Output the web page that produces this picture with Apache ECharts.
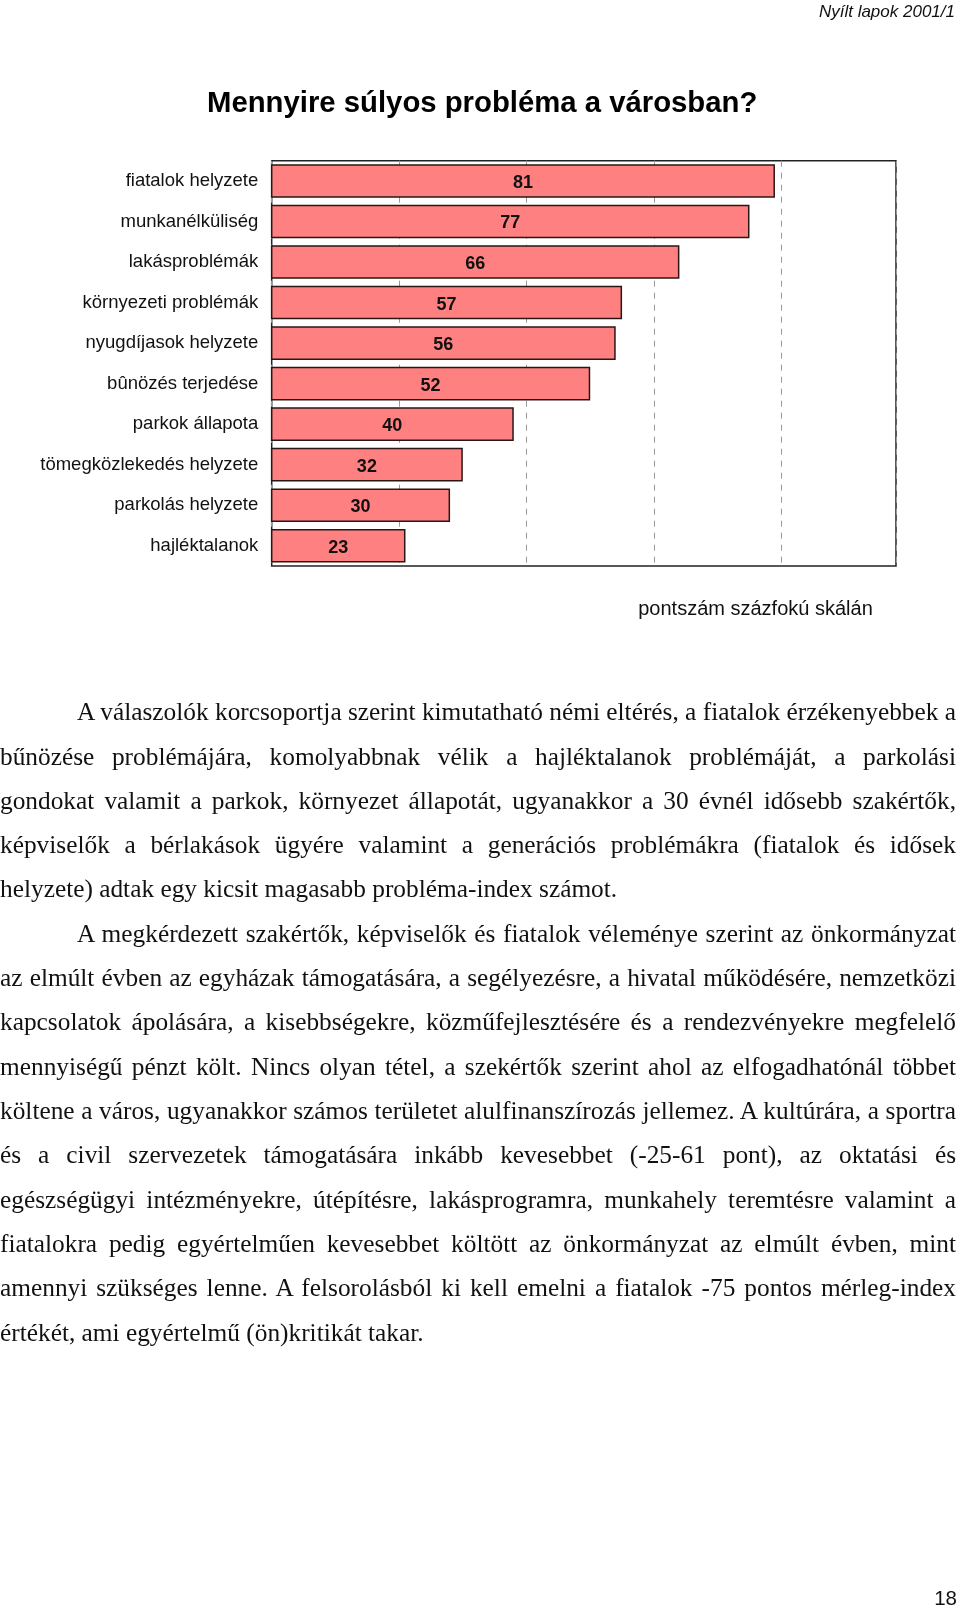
<!DOCTYPE html>
<html>
<head>
<meta charset="utf-8">
<script src="https://cdn.jsdelivr.net/npm/echarts@6/dist/echarts.min.js"></script>
<style>
  html, body { margin: 0; padding: 0; background: #fff; }
  #page { position: relative; width: 960px; height: 1608px; overflow: hidden; }
  #chart { position: absolute; left: 0; top: 0; width: 960px; height: 1608px; }
  #text { position: absolute; left: 0; top: 0; width: 960px; height: 1608px; pointer-events: none; }
  .ln { position: absolute; white-space: nowrap; font-family: 'Liberation Serif', 'Times New Roman', serif; font-size: 25.35px; line-height: 44.32px; color: #111; }
</style>
</head>
<body>
<div id="page">
  <div id="chart"></div>
  <div id="text"></div>
</div>
<script>
// ---- chart data ----
const categories = [
  'fiatalok helyzete', 'munkanélküliség', 'lakásproblémák', 'környezeti problémák',
  'nyugdíjasok helyzete', 'bûnözés terjedése', 'parkok állapota',
  'tömegközlekedés helyzete', 'parkolás helyzete', 'hajléktalanok'
];
const scores = [81, 77, 66, 57, 56, 52, 40, 32, 30, 23];
const axisMin = 2;
const axisMax = 100;
const axisStep = 20;

// ---- page texts ----
const headerText = 'Nyílt lapok 2001/1';
const titleText = 'Mennyire súlyos probléma a városban?';
const axisNameText = 'pontszám százfokú skálán';
const pageNumber = '18';

const paragraph1 = [
  'A válaszolók korcsoportja szerint kimutatható némi eltérés, a fiatalok érzékenyebbek a',
  'bűnözése problémájára, komolyabbnak vélik a hajléktalanok problémáját, a parkolási',
  'gondokat valamit a parkok, környezet állapotát, ugyanakkor a 30 évnél idősebb szakértők,',
  'képviselők a bérlakások ügyére valamint a generációs problémákra (fiatalok és idősek',
  'helyzete) adtak egy kicsit magasabb probléma-index számot.'
];
const paragraph2 = [
  'A megkérdezett szakértők, képviselők és fiatalok véleménye szerint az önkormányzat',
  'az elmúlt évben az egyházak támogatására, a segélyezésre, a hivatal működésére, nemzetközi',
  'kapcsolatok ápolására, a kisebbségekre, közműfejlesztésére és a rendezvényekre megfelelő',
  'mennyiségű pénzt költ. Nincs olyan tétel, a szekértők szerint ahol az elfogadhatónál többet',
  'költene a város, ugyanakkor számos területet alulfinanszírozás jellemez. A kultúrára, a sportra',
  'és a civil szervezetek támogatására inkább kevesebbet (-25-61 pont), az oktatási és',
  'egészségügyi intézményekre, útépítésre, lakásprogramra, munkahely teremtésre valamint a',
  'fiatalokra pedig egyértelműen kevesebbet költött az önkormányzat az elmúlt évben, mint',
  'amennyi szükséges lenne. A felsorolásból ki kell emelni a fiatalok -75 pontos mérleg-index',
  'értékét, ami egyértelmű (ön)kritikát takar.'
];

// ---- body text layout (justified lines) ----
(function () {
  const box = document.getElementById('text');
  const lineH = 44.32, firstTop = 689.2, indent = 77, rightEdge = 956;
  let idx = 0;
  [paragraph1, paragraph2].forEach(function (p) {
    p.forEach(function (line, i) {
      const d = document.createElement('div');
      d.className = 'ln';
      d.textContent = line;
      const left = i === 0 ? indent : 0;
      d.style.left = left + 'px';
      d.style.top = (firstTop + idx * lineH) + 'px';
      box.appendChild(d);
      if (i < p.length - 1) {
        const w = d.getBoundingClientRect().width;
        const spaces = (line.match(/ /g) || []).length;
        if (spaces > 0) d.style.wordSpacing = ((rightEdge - left - w) / spaces) + 'px';
      }
      idx++;
    });
  });
})();

// ---- chart ----
const chart = echarts.init(document.getElementById('chart'), null, { renderer: 'canvas' });
const sans = "'Liberation Sans', Arial, sans-serif";
chart.setOption({
  animation: false,
  backgroundColor: '#fff',
  grid: {
    left: 271.7, right: 64, top: 160.7, bottom: 1042,
    show: true, borderColor: '#222', borderWidth: 1.5, backgroundColor: 'transparent'
  },
  xAxis: {
    type: 'value', min: axisMin, max: axisMax, interval: axisStep,
    axisLabel: { show: false }, axisTick: { show: false }, axisLine: { show: false },
    splitLine: { show: true, lineStyle: { type: [6, 6], color: '#9a9a9a', width: 1 } }
  },
  yAxis: {
    type: 'category', data: categories, inverse: true,
    axisLine: { show: false }, axisTick: { show: false }, splitLine: { show: false },
    axisLabel: { fontSize: 18.5, fontFamily: sans, color: '#111', margin: 13.4, lineHeight: 22, padding: [3, 0, 0, 0] }
  },
  series: [{
    type: 'bar', data: scores, barCategoryGap: '17%',
    itemStyle: { color: '#FF8080', borderColor: '#2a1616', borderWidth: 1.5 },
    label: { show: true, position: 'inside', offset: [0, 2], fontWeight: 'bold', fontSize: 18, fontFamily: sans, color: '#111' }
  }],
  graphic: [
    { type: 'text', x: 955, y: 12, style: { text: headerText, font: "italic 17px 'Liberation Sans', Arial, sans-serif", fill: '#111', align: 'right', verticalAlign: 'middle' } },
    { type: 'text', x: 207, y: 104, style: { text: titleText, font: "bold 29.3px 'Liberation Sans', Arial, sans-serif", fill: '#000', align: 'left', verticalAlign: 'middle' } },
    { type: 'text', x: 755.5, y: 609.5, style: { text: axisNameText, font: "20px 'Liberation Sans', Arial, sans-serif", fill: '#111', align: 'center', verticalAlign: 'middle' } },
    { type: 'text', x: 957, y: 1599.5, style: { text: pageNumber, font: "20.5px 'Liberation Sans', Arial, sans-serif", fill: '#111', align: 'right', verticalAlign: 'middle' } }
  ]
});
</script>
</body>
</html>
